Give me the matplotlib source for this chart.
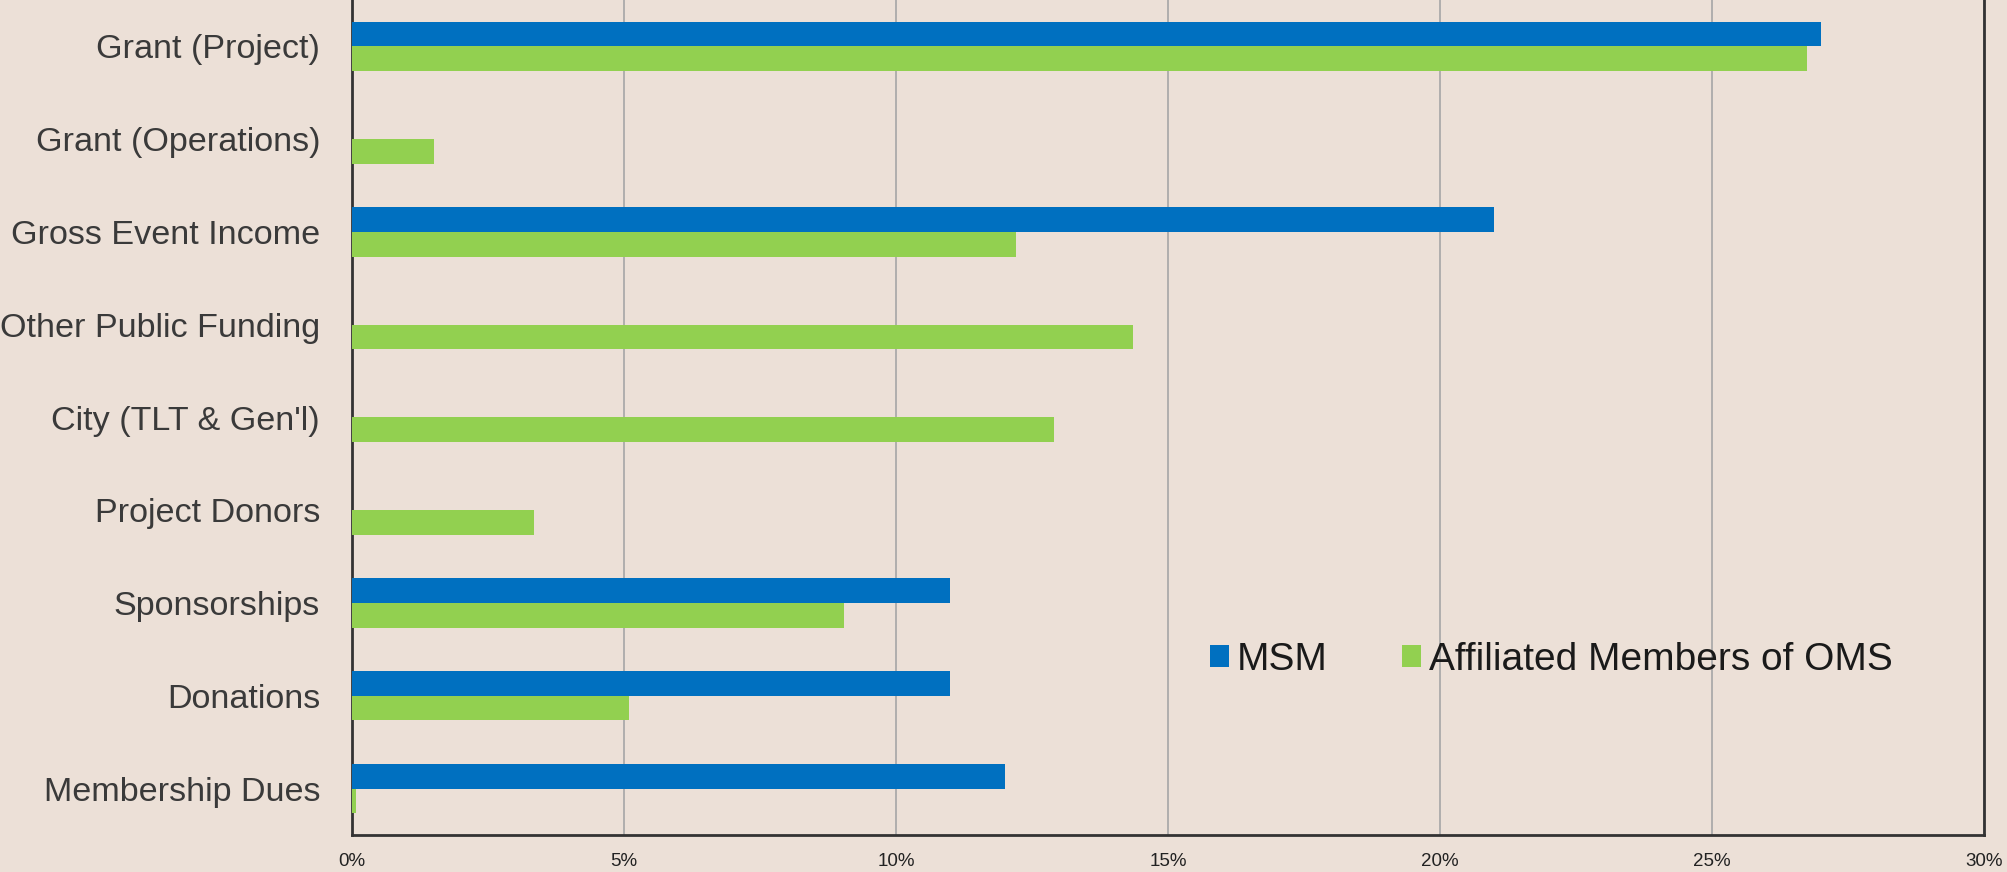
import matplotlib
matplotlib.use('Agg')
import matplotlib.pyplot as plt
import numpy as np

# categories top to bottom
categories = ['Grant (Project)', 'Grant (Operations)', 'Gross Event Income',
              'Other Public Funding', "City (TLT & Gen'l)", 'Project Donors',
              'Sponsorships', 'Donations', 'Membership Dues']
msm = [27.0, 0, 21.0, 0, 0, 0, 11.0, 11.0, 12.0]
oms = [26.75, 1.5, 12.2, 14.35, 12.9, 3.35, 9.05, 5.1, 0.08]
xticks = [0, 5, 10, 15, 20, 25, 30]

plt.rcParams['font.family'] = ['Liberation Sans', 'DejaVu Sans']
bg = '#ECE0D7'

fig = plt.figure(figsize=(20.07, 8.72), dpi=100, facecolor=bg)
ax = fig.add_axes([352/2007, 1 - 835/872, (1984-352)/2007, 835/872])
ax.set_facecolor(bg)

y = np.arange(len(categories))
h = 0.265
ax.barh(y - h/2, msm, height=h, color='#0070C0', label='MSM', zorder=3)
ax.barh(y + h/2, oms, height=h, color='#92D050', label='Affiliated Members of OMS', zorder=3)

ax.set_xlim(0, 30)
ax.set_ylim(8.5, -0.5)
ax.set_xticks(xticks)
ax.set_xticklabels([f'{t}%' for t in xticks], fontsize=13.5, color='#222222')
ax.set_yticks(y)
ax.set_yticklabels(categories, fontsize=24.6, color='#3a3a3a')
ax.tick_params(axis='both', length=0)
ax.tick_params(axis='y', pad=23)
ax.tick_params(axis='x', pad=13)
ax.grid(axis='x', color='#A6A6A6', linewidth=1.2, zorder=0)

for s in ['left', 'bottom', 'right']:
    ax.spines[s].set_color('#333333')
    ax.spines[s].set_linewidth(2)
ax.spines['top'].set_visible(False)

ax.legend(loc='center left', bbox_to_anchor=((1210-352)/1632, 0.21), ncol=2,
          frameon=False, fontsize=28, handlelength=0.5, handleheight=0.5,
          handletextpad=0.2, columnspacing=1.9, borderpad=0, borderaxespad=0,
          labelcolor='#1a1a1a')

fig.savefig('out.png', dpi=100, facecolor=bg)
